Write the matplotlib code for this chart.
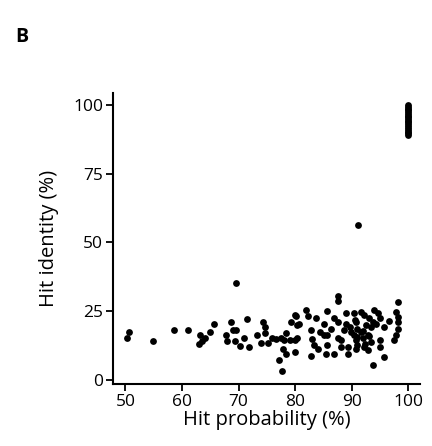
import matplotlib
matplotlib.use("Agg")
import matplotlib.pyplot as plt

plt.rcParams['font.family'] = ['Open Sans', 'DejaVu Sans']

# hit probability (%) and hit identity (%)
hit_prob = [
    50.6, 50.2, 54.9, 58.6, 61.0, 63.2, 64.0, 63.6, 63.0, 64.9, 65.7,
    68.7, 71.5, 67.8, 69.0, 69.6, 67.9, 69.4, 70.2, 70.9, 71.8, 73.2,
    74.3, 74.7, 74.7, 74.0, 75.1, 75.9, 76.6, 77.5, 78.3, 78.1, 79.0,
    77.9, 78.4, 77.2, 77.6, 79.3, 80.0, 80.4, 79.9, 80.0, 69.6, 91.1,
    87.5, 87.5, 81.9, 85.6, 82.2, 80.2, 83.7, 86.9, 87.5, 89.0, 90.4,
    80.7, 85.1, 89.0, 90.7, 82.8, 85.0, 85.7, 87.5, 88.1, 89.9, 90.4,
    90.7, 80.4, 83.4, 84.0, 85.7, 85.4, 82.8, 86.9, 89.3, 89.3, 90.7,
    98.1, 97.8, 98.1, 98.1, 98.1, 97.8, 97.5, 94.0, 94.6, 94.9, 95.7,
    91.6, 92.2, 93.1, 93.7, 94.3, 93.4, 92.5, 91.0, 91.6, 91.0, 91.9,
    92.8, 93.4, 92.2, 91.0, 92.8, 94.9, 94.9, 95.7, 93.7, 90.6,
    86.3, 88.6, 84.4, 92.0, 93.0, 96.6, 83.0, 88.0, 89.6, 92.4,
    100.0, 100.0, 100.0, 100.0, 100.0, 100.0, 100.0, 100.0, 100.0,
    100.0, 100.0, 100.0, 100.0, 100.0, 100.0, 100.0, 100.0, 100.0,
]
hit_ident = [
    17.2, 15.0, 14.0, 17.9, 17.9, 16.1, 15.0, 13.9, 13.0, 17.2, 20.1,
    21.0, 22.0, 16.4, 18.0, 18.0, 14.1, 14.0, 12.2, 15.0, 11.9, 16.2,
    21.0, 19.2, 17.0, 13.2, 13.2, 15.0, 14.6, 15.0, 16.8, 14.4, 14.4,
    11.0, 9.2, 7.1, 3.1, 21.0, 23.5, 19.8, 14.4, 10.1, 35.0, 56.2,
    30.4, 28.5, 25.3, 25.0, 23.1, 23.1, 22.3, 22.3, 21.0, 24.1, 24.1,
    20.2, 20.2, 20.2, 21.0, 18.0, 16.4, 16.4, 15.0, 14.4, 17.4, 16.2,
    14.4, 15.0, 12.5, 11.3, 12.5, 9.5, 8.5, 9.2, 11.9, 9.2, 11.3,
    28.3, 24.7, 22.8, 21.0, 18.6, 16.2, 14.4, 25.3, 24.1, 22.3, 19.2,
    24.7, 23.5, 22.3, 21.0, 20.4, 19.2, 19.8, 18.6, 17.4, 15.6, 15.0,
    16.2, 13.7, 11.9, 12.5, 10.7, 14.4, 11.9, 8.3, 5.3, 21.6,
    18.5, 18.0, 17.5, 17.8, 15.8, 21.5, 14.8, 12.0, 19.0, 13.0,
    100.0, 99.3, 98.6, 98.0, 97.4, 96.8, 96.1, 95.5, 94.8,
    94.2, 93.6, 93.0, 92.3, 91.6, 91.0, 90.3, 89.6, 89.0,
]

fig = plt.figure(figsize=(4.32, 4.46), dpi=100)
ax = fig.add_axes([0.2616, 0.139, 0.71, 0.653])

ax.scatter(hit_prob, hit_ident, s=24, color='black', linewidths=0, zorder=3)

ax.set_xlim(47.8, 102)
ax.set_ylim(-1.6, 104.4)
ax.set_xticks([50, 60, 70, 80, 90, 100])
ax.set_yticks([0, 25, 50, 75, 100])

for side in ['top', 'right']:
    ax.spines[side].set_visible(False)
for side in ['left', 'bottom']:
    ax.spines[side].set_linewidth(1.5)
ax.tick_params(length=5, width=1.3, labelsize=12.5, colors='black', pad=2)

ax.set_xlabel('Hit probability (%)', fontsize=14.5, labelpad=0)
ax.set_ylabel('Hit identity (%)', fontsize=14.5, labelpad=10)

fig.text(0.035, 0.905, 'B', fontsize=14, fontweight='bold')

fig.savefig('out.png', dpi=100)
